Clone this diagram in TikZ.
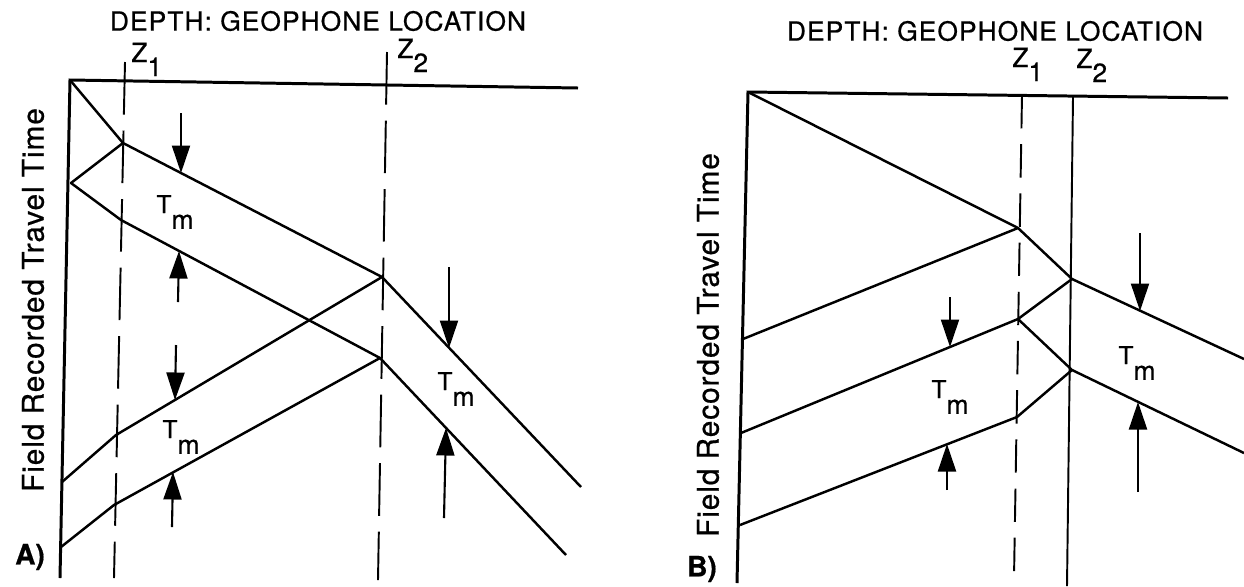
\documentclass[tikz,border=0pt]{standalone}
\usepackage{fontspec}
\setmainfont{TeX Gyre Heros}[FakeBold=0.6]
\newfontfamily\titlefont{TeX Gyre Heros}[LetterSpace=4,FakeBold=0.6]
\newfontfamily\axisfont{TeX Gyre Heros}[LetterSpace=3,FakeBold=0.6]
\usetikzlibrary{arrows.meta}

% depth index and move-out label
\newcommand{\zidx}[2]{#1\raisebox{-8pt}{#2}}
\newcommand{\tmlbl}{{\fontsize{14}{16}\selectfont T}\raisebox{-9pt}{\fontsize{15}{17}\selectfont m}}

\begin{document}
\begin{tikzpicture}[
    x=0.02cm, y=-0.02cm,
    font=\fontsize{15}{17}\selectfont,
    >={Triangle[length=0.55cm,width=0.36cm]},
    axis/.style={line width=1.7pt},
    trace/.style={line width=1.4pt, line join=round},
    zline/.style={line width=1.1pt},
    zdashA/.style={zline, dash pattern=on 30pt off 9pt},
    zdashB/.style={zline, dash pattern=on 19pt off 9pt},
    pick/.style={->, line width=1.2pt},
    lbl/.style={inner sep=0pt},
    title/.style={lbl, font=\titlefont\fontsize{15}{17}\selectfont},
    timelbl/.style={lbl, rotate=90, font=\axisfont\fontsize{17}{19}\selectfont},
    tag/.style={lbl, font=\bfseries\fontsize{16}{18}\selectfont}
]
\useasboundingbox (0,0) rectangle (1244,586);

% Panel A: axes
\coordinate (A0) at (70,80);
\coordinate (Atop) at (578,88);
\coordinate (Abot) at (60,578);
\draw[axis] (Atop) -- (A0) -- (Abot);

% Panel A: geophone depths
\coordinate (Az1) at (125,62);
\coordinate (Az1b) at (114,578);
\coordinate (Az2) at (387,52);
\coordinate (Az2b) at (378,580);
\draw[zdashA] (Az1) -- (Az1b);
\draw[zdashA] (Az2) -- (Az2b);

% Panel A: travel time branches
\coordinate (a1) at (123,143);
\coordinate (a2) at (382,277);
\coordinate (a3) at (581,487);
\coordinate (b0) at (71,183);
\coordinate (b1) at (121,220);
\coordinate (b2) at (380,358);
\coordinate (b3) at (566,555);
\coordinate (c0) at (62,482);
\coordinate (c1) at (116,435);
\coordinate (d0) at (61,547);
\coordinate (d1) at (114,505);
\draw[trace] (A0) -- (a1) -- (a2) -- (a3);
\draw[trace] (a1) -- (b0) -- (b1) -- (b2) -- (b3);
\draw[trace] (c0) -- (c1) -- (a2);
\draw[trace] (d0) -- (d1) -- (b2);

% Panel A: move-out picks
\coordinate (pA1) at (181,113); \coordinate (tA1) at (181,173);
\coordinate (pA2) at (178,302); \coordinate (tA2) at (179,251);
\coordinate (pA3) at (176,345); \coordinate (tA3) at (175,400);
\coordinate (pA4) at (172,527); \coordinate (tA4) at (173,472);
\coordinate (pA5) at (449,267); \coordinate (tA5) at (449,348);
\coordinate (pA6) at (444,518); \coordinate (tA6) at (446,428);
\foreach \i in {1,...,6}
    \draw[pick] (pA\i) -- (tA\i);

% Panel A: labels
\node[title] (titleA) at (318,21) {DEPTH: GEOPHONE LOCATION};
\node[lbl, anchor=base west] (zA1) at (131,62) {\zidx{Z}{1}};
\node[lbl, anchor=base west] (zA2) at (397,58) {\zidx{Z}{2}};
\node[lbl] (tmA1) at (175,212) {\tmlbl};
\node[lbl] (tmA2) at (181,437) {\tmlbl};
\node[lbl] (tmA3) at (456,389) {\tmlbl};
\node[timelbl] (timeA) at (33,300) {Field Recorded Travel Time};
\node[tag] (tagA) at (30,557) {A)};

% Panel B: axes
\coordinate (B0) at (748,92);
\coordinate (Btop) at (1228,98);
\coordinate (Bbot) at (737,583);
\draw[axis] (Btop) -- (B0) -- (Bbot);

% Panel B: geophone depths
\coordinate (Bz1) at (1022,95);
\coordinate (Bz1b) at (1014,578);
\coordinate (Bz2) at (1073,97);
\coordinate (Bz2b) at (1067,586);
\draw[zdashB] (Bz1) -- (Bz1b);
\draw[zline] (Bz2) -- (Bz2b);

% Panel B: travel time branches
\coordinate (e1) at (1018,228);
\coordinate (e2) at (1072,279);
\coordinate (e3) at (1244,359);
\coordinate (f0) at (743,339);
\coordinate (g0) at (741,433);
\coordinate (g1) at (1018,319);
\coordinate (h2) at (1072,370);
\coordinate (h3) at (1244,453);
\coordinate (i0) at (740,525);
\coordinate (i1) at (1017,417);
\draw[trace] (B0) -- (e1) -- (e2) -- (e3);
\draw[trace] (f0) -- (e1);
\draw[trace] (g0) -- (g1) -- (e2);
\draw[trace] (g1) -- (h2) -- (h3);
\draw[trace] (i0) -- (i1) -- (h2);

% Panel B: move-out picks
\coordinate (pB1) at (950,297);  \coordinate (tB1) at (950,347);
\coordinate (pB2) at (947,490);  \coordinate (tB2) at (947,444);
\coordinate (pB3) at (1140,233); \coordinate (tB3) at (1140,311);
\coordinate (pB4) at (1138,492); \coordinate (tB4) at (1138,402);
\foreach \i in {1,...,4}
    \draw[pick] (pB\i) -- (tB\i);

% Panel B: labels
\node[title] (titleB) at (995,31) {DEPTH: GEOPHONE LOCATION};
\node[lbl, anchor=base west] (zB1) at (1012,67) {\zidx{Z}{1}};
\node[lbl, anchor=base west] (zB2) at (1076,68) {\zidx{Z}{2}};
\node[lbl] (tmB1) at (950,397) {\tmlbl};
\node[lbl] (tmB2) at (1137,363) {\tmlbl};
\node[timelbl] (timeB) at (708,345) {Field Recorded Travel Time};
\node[tag] (tagB) at (702,569) {B)};

\end{tikzpicture}
\end{document}
